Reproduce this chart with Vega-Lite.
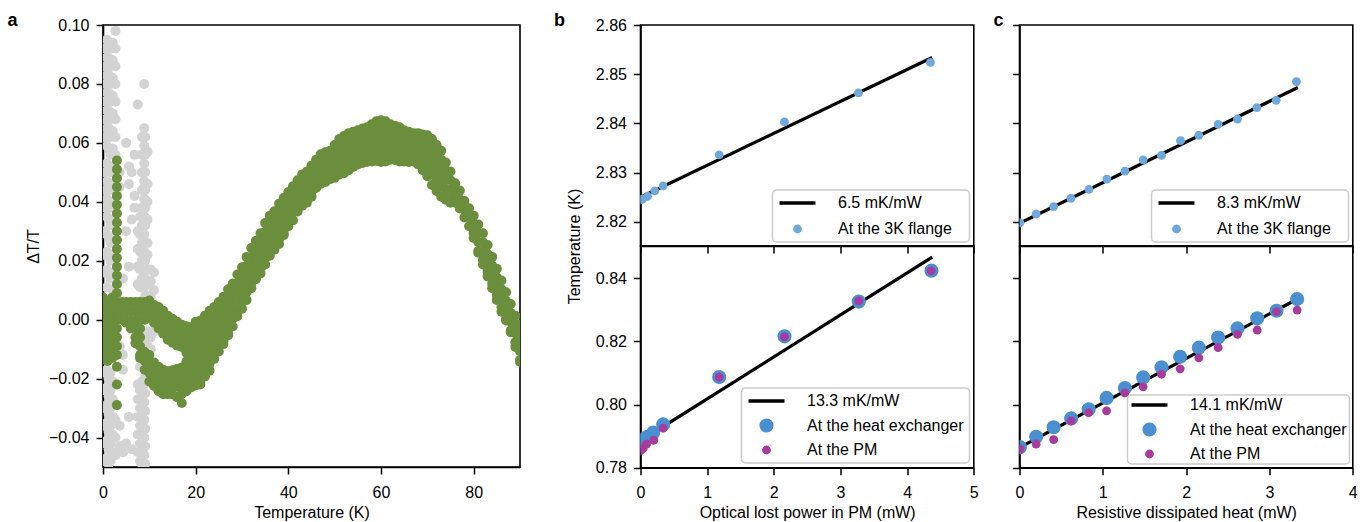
{
  "$schema": "https://vega.github.io/schema/vega-lite/v6.json",
  "padding": {"left": 6, "top": 10, "right": 5, "bottom": 2},
  "config": {
    "font": "Liberation Sans",
    "view": {"stroke": "black", "strokeWidth": 1.6},
    "axis": {"labelFont": "Liberation Sans", "titleFont": "Liberation Sans", "labelFontSize": 16, "titleFontSize": 16, "titleFontWeight": "normal", "labelColor": "black", "titleColor": "black", "tickColor": "black", "domainColor": "black", "tickSize": 7, "tickWidth": 1.5, "domainWidth": 1.6, "grid": false, "labelPadding": 7, "labelFlush": false, "titlePadding": 6},
    "axisX": {"labelPadding": 10, "titlePadding": 4},
    "legend": {"labelFont": "Liberation Sans", "labelFontSize": 16, "labelColor": "black", "padding": 5, "strokeColor": "#cccccc", "strokeWidth": 1.5, "fillColor": "rgba(255,255,255,0.8)", "cornerRadius": 4, "labelOffset": 32.5, "symbolOffset": 12, "rowPadding": 10, "symbolStrokeWidth": 0, "symbolOpacity": 1},
    "title": {"font": "Liberation Sans", "fontSize": 18, "fontWeight": "bold", "anchor": "start", "frame": "group", "color": "black", "offset": 0}
  },
  "datasets": {
    "green": [
      {"t":0,"v":[0.0075,0.0045,0.0015,-0.0015,-0.0045,-0.0075,-0.0105,-0.0135]},
      {"t":1,"v":[0.006,0.003,0,-0.003,-0.006,-0.009,-0.012,-0.014]},
      {"t":2,"v":[0.0075,0.0045,0.0015,-0.0015,-0.0045,-0.0075,-0.0105,-0.013]},
      {"t":3,"v":[0.054,0.051,0.048,0.045,0.042,0.039,0.036,0.033,0.03,0.027,0.024,0.021,0.018,0.015,0.012,0.009,0.006,0.003,0,-0.003,-0.006,-0.009,-0.012,-0.016,-0.022,-0.029]},
      {"t":4,"v":[0.006,0.003,0]},
      {"t":5,"v":[0.006,0.003,0,-0.001]},
      {"t":6,"v":[0.006,0.003,0,-0.003]},
      {"t":7,"v":[0.006,0.003,0,-0.003,-0.006,-0.008]},
      {"t":8,"v":[0.006,0.003,0,-0.003,-0.006,-0.009,-0.012,-0.013]},
      {"t":9,"v":[0.006,0.003,0,-0.011,-0.014,-0.017]},
      {"t":10,"v":[0.0065,0.0035,0.0005,-0.012,-0.015,-0.018,-0.021]},
      {"t":11,"v":[0.005,0.002,-0.001,-0.0145,-0.0175,-0.0205,-0.0225]},
      {"t":12,"v":[0.0043,0.0013,-0.0017,-0.003,-0.016,-0.019,-0.022,-0.0243]},
      {"t":13,"v":[0.003,0,-0.003,-0.0048,-0.017,-0.02,-0.023,-0.0253]},
      {"t":14,"v":[0.0013,-0.0017,-0.0047,-0.0068,-0.0175,-0.0205,-0.0235,-0.0253]},
      {"t":15,"v":[0.0003,-0.0027,-0.0057,-0.0078,-0.0172,-0.0202,-0.0232,-0.0253]},
      {"t":16,"v":[-0.0007,-0.0037,-0.0067,-0.0088,-0.0167,-0.0197,-0.0227,-0.0263]},
      {"t":17,"v":[-0.0017,-0.0047,-0.0077,-0.0093,-0.0162,-0.0192,-0.0222,-0.0252,-0.0283]},
      {"t":18,"v":[-0.0022,-0.0052,-0.0082,-0.0112,-0.0142,-0.0172,-0.0202,-0.0232,-0.0243]},
      {"t":19,"v":[-0.0026,-0.0056,-0.0086,-0.0116,-0.0146,-0.0176,-0.0206,-0.023]},
      {"t":20,"v":[-0.0007,-0.0037,-0.0067,-0.0097,-0.0127,-0.0157,-0.0187,-0.0217,-0.0223]},
      {"t":21,"v":[-0.0003,-0.0033,-0.0063,-0.0093,-0.0123,-0.0153,-0.0183,-0.0213,-0.022]},
      {"t":22,"v":[0.0013,-0.0017,-0.0047,-0.0077,-0.0107,-0.0137,-0.0167,-0.0193]},
      {"t":23,"v":[0.003,0,-0.003,-0.006,-0.009,-0.012,-0.015,-0.0173]},
      {"t":24,"v":[0.0043,0.0013,-0.0017,-0.0047,-0.0077,-0.0107,-0.0133]},
      {"t":25,"v":[0.006,0.003,0,-0.003,-0.006,-0.009,-0.0108]},
      {"t":26,"v":[0.0078,0.0048,0.0018,-0.0012,-0.0042,-0.0072,-0.0083]},
      {"t":27,"v":[0.0103,0.0073,0.0043,0.0013,-0.0017,-0.0047,-0.0053]},
      {"t":28,"v":[0.0123,0.0093,0.0063,0.0033,0.0003,-0.0023]},
      {"t":29,"v":[0.0153,0.0123,0.0093,0.0063,0.0033,0.0012]},
      {"t":30,"v":[0.0178,0.0148,0.0118,0.0088,0.0058,0.0037]},
      {"t":31,"v":[0.0213,0.0183,0.0153,0.0123,0.0093,0.0067]},
      {"t":32,"v":[0.0243,0.0213,0.0183,0.0153,0.0123,0.0107]},
      {"t":33,"v":[0.0268,0.0238,0.0208,0.0178,0.0148,0.0137]},
      {"t":34,"v":[0.0293,0.0263,0.0233,0.0203,0.0173,0.0157]},
      {"t":35,"v":[0.0328,0.0298,0.0268,0.0238,0.0208,0.0187]},
      {"t":36,"v":[0.0353,0.0323,0.0293,0.0263,0.0233,0.0217]},
      {"t":37,"v":[0.0368,0.0338,0.0308,0.0278,0.0248,0.0237]},
      {"t":38,"v":[0.0393,0.0363,0.0333,0.0303,0.0273,0.0257]},
      {"t":39,"v":[0.0413,0.0383,0.0353,0.0323,0.0293,0.0287]},
      {"t":40,"v":[0.0433,0.0403,0.0373,0.0343,0.0317]},
      {"t":41,"v":[0.0453,0.0423,0.0393,0.0363,0.0337]},
      {"t":42,"v":[0.0473,0.0443,0.0413,0.0383,0.0367]},
      {"t":43,"v":[0.0493,0.0463,0.0433,0.0403,0.0387]},
      {"t":44,"v":[0.0503,0.0473,0.0443,0.0413,0.0397]},
      {"t":45,"v":[0.0523,0.0493,0.0463,0.0433,0.0417]},
      {"t":46,"v":[0.0543,0.0513,0.0483,0.0453,0.0447]},
      {"t":47,"v":[0.0561,0.0531,0.0501,0.0471,0.0461]},
      {"t":48,"v":[0.0568,0.0538,0.0508,0.0478,0.0467]},
      {"t":49,"v":[0.0573,0.0543,0.0513,0.0483,0.0477]},
      {"t":50,"v":[0.0593,0.0563,0.0533,0.0503,0.0482]},
      {"t":51,"v":[0.0613,0.0583,0.0553,0.0523,0.0493]},
      {"t":52,"v":[0.0623,0.0593,0.0563,0.0533,0.0503,0.0497]},
      {"t":53,"v":[0.0633,0.0603,0.0573,0.0543,0.0513,0.0507]},
      {"t":54,"v":[0.0638,0.0608,0.0578,0.0548,0.0518]},
      {"t":55,"v":[0.0643,0.0613,0.0583,0.0553,0.0527]},
      {"t":56,"v":[0.0649,0.0619,0.0589,0.0559,0.0532]},
      {"t":57,"v":[0.0653,0.0623,0.0593,0.0563,0.0535]},
      {"t":58,"v":[0.0663,0.0633,0.0603,0.0573,0.0543,0.0537]},
      {"t":59,"v":[0.0673,0.0643,0.0613,0.0583,0.0553,0.0539]},
      {"t":60,"v":[0.0677,0.0647,0.0617,0.0587,0.0557,0.0535]},
      {"t":61,"v":[0.0673,0.0643,0.0613,0.0583,0.0553,0.0537]},
      {"t":62,"v":[0.0663,0.0633,0.0603,0.0573,0.0543]},
      {"t":63,"v":[0.0658,0.0628,0.0598,0.0568,0.0542]},
      {"t":64,"v":[0.0653,0.0623,0.0593,0.0563,0.0537]},
      {"t":65,"v":[0.0643,0.0613,0.0583,0.0553,0.0537]},
      {"t":66,"v":[0.0638,0.0608,0.0578,0.0548,0.0535]},
      {"t":67,"v":[0.0633,0.0603,0.0573,0.0543,0.0537]},
      {"t":68,"v":[0.0633,0.0603,0.0573,0.0543,0.0527]},
      {"t":69,"v":[0.0628,0.0598,0.0568,0.0538,0.0507]},
      {"t":70,"v":[0.0626,0.0596,0.0566,0.0536,0.0506,0.0487]},
      {"t":71,"v":[0.0613,0.0583,0.0553,0.0523,0.0493,0.0457]},
      {"t":72,"v":[0.0593,0.0563,0.0533,0.0503,0.0473,0.0437]},
      {"t":73,"v":[0.0573,0.0543,0.0513,0.0483,0.0453,0.0417]},
      {"t":74,"v":[0.0533,0.0503,0.0473,0.0443,0.0413,0.0407]},
      {"t":75,"v":[0.0503,0.0473,0.0443,0.0413,0.0397]},
      {"t":76,"v":[0.0463,0.0433,0.0403,0.0397]},
      {"t":77,"v":[0.0438,0.0408,0.0377]},
      {"t":78,"v":[0.0403,0.0373,0.0347]},
      {"t":79,"v":[0.0378,0.0348,0.0317]},
      {"t":80,"v":[0.0353,0.0323,0.0293,0.0277]},
      {"t":81,"v":[0.0323,0.0293,0.0263,0.0233,0.0227]},
      {"t":82,"v":[0.0293,0.0263,0.0233,0.0203,0.0187]},
      {"t":83,"v":[0.0253,0.0223,0.0193,0.0163,0.0147]},
      {"t":84,"v":[0.0213,0.0183,0.0153,0.0123,0.0107]},
      {"t":85,"v":[0.0173,0.0143,0.0113,0.0083,0.0067]},
      {"t":86,"v":[0.0133,0.0103,0.0073,0.0043,0.0027]},
      {"t":87,"v":[0.0093,0.0063,0.0033,0.0003,-0.0003]},
      {"t":88,"v":[0.0053,0.0023,-0.0007,-0.0037,-0.0043]},
      {"t":89,"v":[0.0013,-0.0017,-0.0047,-0.0077,-0.0093]},
      {"t":90,"v":[-0.0017,-0.0047,-0.0077,-0.0107,-0.0137,-0.0143]}
    ],
    "grey": [
      {"t":0.4,"v":[0.092,0.086,0.08,0.074,0.068,0.062,0.05,0.044,0.038,0.03,0.022,0.016,-0.018,-0.024,-0.03,-0.036,-0.042,-0.048]},
      {"t":0.8,"v":[0.095,0.089,0.083,0.077,0.071,0.065,0.059,0.053,0.047,0.041,0.035,0.029,0.023,0.017,0.011,-0.017,-0.023,-0.029,-0.035,-0.041,-0.047]},
      {"t":1.2,"v":[0.089,0.083,0.077,0.071,0.065,0.058,0.052,0.046,0.04,0.034,0.028,0.022,0.016,-0.02,-0.026,-0.032,-0.038,-0.044,-0.049]},
      {"t":1.6,"v":[0.092,0.086,0.08,0.074,0.068,0.062,0.056,0.05,0.044,0.038,0.032,0.026,0.02,0.014,-0.018,-0.024,-0.03,-0.036,-0.042,-0.048]},
      {"t":2.1,"v":[0.094,0.088,0.082,0.076,0.07,0.064,0.058,0.052,0.046,0.04,0.034,0.028,0.022,0.016,0.01,-0.021,-0.027,-0.033,-0.039,-0.045]},
      {"t":2.7,"v":[0.098,0.092,0.086,0.08,0.074,0.068,0.062,0.056,-0.034,-0.04,-0.046]},
      {"t":3.6,"v":[0.05,0.045,-0.009,-0.036,-0.043]},
      {"t":4.3,"v":[0.014,-0.012,-0.017,-0.045]},
      {"t":5.0,"v":[0.06,0.03,-0.042]},
      {"t":5.6,"v":[0.052,0.046,0.018,-0.033]},
      {"t":6.2,"v":[0.05,0.034,-0.044]},
      {"t":6.8,"v":[0.056,0.042,0.038]},
      {"t":7.5,"v":[0.073,0.03,0.024,0.018,0.012,-0.022,-0.027,-0.033,-0.039,-0.045]},
      {"t":8.0,"v":[0.035,0.029,0.023,0.017,0.011,-0.016,-0.024,-0.03,-0.036,-0.042,-0.048]},
      {"t":8.4,"v":[0.062,0.056,0.05,0.044,0.038,0.032,0.026,0.02,0.014,-0.004,-0.021,-0.027,-0.033,-0.038,-0.044,-0.049]},
      {"t":8.9,"v":[0.08,0.065,0.059,0.053,0.047,0.041,0.035,0.029,0.023,0.017,0.011,-0.01,-0.016,-0.022,-0.028,-0.034,-0.04,-0.046]},
      {"t":9.1,"v":[0.062,0.056,0.05,0.044,0.038,0.032,0.026,0.02,0.014,0.008,-0.007,-0.013,-0.019,-0.025,-0.031,-0.037,-0.043,-0.049]},
      {"t":9.6,"v":[0.057,0.046,0.04,0.034,0.026,0.022,0.017,0.012,0.008,-0.004,-0.009,-0.015]},
      {"t":10.3,"v":[0.017,0.013,0.008,-0.006,-0.01]},
      {"t":11.0,"v":[0.016,0.01,-0.004]}
    ],
    "bfit3k": [{"x":0,"y":2.825},{"x":4.375,"y":2.8534}],
    "b3k": [{"x":0,"y":2.8245},{"x":0.03,"y":2.8246},{"x":0.105,"y":2.8252},{"x":0.215,"y":2.8263},{"x":0.34,"y":2.8273},{"x":1.18,"y":2.8336},{"x":2.16,"y":2.8403},{"x":3.27,"y":2.8462},{"x":4.35,"y":2.8524}],
    "bfit": [{"x":0,"y":0.7885},{"x":4.375,"y":0.8467}],
    "bhx": [{"x":0,"y":0.7885},{"x":0.03,"y":0.789},{"x":0.105,"y":0.7898},{"x":0.19,"y":0.7911},{"x":0.34,"y":0.7937},{"x":1.18,"y":0.8087},{"x":2.16,"y":0.8216},{"x":3.275,"y":0.8326},{"x":4.365,"y":0.8424}],
    "bpm": [{"x":0,"y":0.7854},{"x":0.04,"y":0.7861},{"x":0.09,"y":0.7875},{"x":0.2,"y":0.7887},{"x":0.34,"y":0.7925},{"x":1.18,"y":0.8087},{"x":2.16,"y":0.8214},{"x":3.275,"y":0.8328},{"x":4.36,"y":0.8423}],
    "cfit3k": [{"x":0,"y":2.8197},{"x":3.34,"y":2.8473}],
    "c3k": [{"x":0.005,"y":2.8198},{"x":0.2,"y":2.8216},{"x":0.41,"y":2.8231},{"x":0.617,"y":2.8248},{"x":0.833,"y":2.8266},{"x":1.049,"y":2.8287},{"x":1.265,"y":2.8303},{"x":1.484,"y":2.8326},{"x":1.704,"y":2.8335},{"x":1.932,"y":2.8365},{"x":2.152,"y":2.8376},{"x":2.384,"y":2.8398},{"x":2.616,"y":2.8409},{"x":2.849,"y":2.8432},{"x":3.081,"y":2.8447},{"x":3.324,"y":2.8485}],
    "cfit": [{"x":0,"y":0.7864},{"x":3.34,"y":0.8335}],
    "chx": [{"x":0.005,"y":0.7865},{"x":0.2,"y":0.7898},{"x":0.41,"y":0.7928},{"x":0.62,"y":0.7956},{"x":0.83,"y":0.7985},{"x":1.045,"y":0.8021},{"x":1.265,"y":0.8052},{"x":1.484,"y":0.8086},{"x":1.704,"y":0.8118},{"x":1.928,"y":0.8151},{"x":2.152,"y":0.818},{"x":2.384,"y":0.8212},{"x":2.616,"y":0.8241},{"x":2.853,"y":0.8273},{"x":3.085,"y":0.8297},{"x":3.332,"y":0.8334}],
    "cpm": [{"x":0.005,"y":0.7859},{"x":0.2,"y":0.7875},{"x":0.41,"y":0.7889},{"x":0.62,"y":0.7948},{"x":0.83,"y":0.7974},{"x":1.045,"y":0.798},{"x":1.265,"y":0.8037},{"x":1.484,"y":0.8056},{"x":1.704,"y":0.8096},{"x":1.928,"y":0.8113},{"x":2.152,"y":0.8148},{"x":2.384,"y":0.818},{"x":2.616,"y":0.8222},{"x":2.853,"y":0.8236},{"x":3.085,"y":0.8294},{"x":3.332,"y":0.8299}]
  },
  "spacing": 31.5,
  "resolve": {"scale": {"color": "independent", "shape": "independent", "size": "independent"}, "legend": {"color": "independent", "shape": "independent", "size": "independent"}},
  "hconcat": [
    {
      "title": {"text": "a", "dx": -95.5, "dy": 16.5},
      "width": 417,
      "height": 442,
      "encoding": {
        "x": {"field": "t", "type": "quantitative", "scale": {"domain": [0, 90], "nice": false, "zero": false}, "axis": {"title": "Temperature (K)", "values": [0, 20, 40, 60, 80], "format": "d"}},
        "y": {"field": "v", "type": "quantitative", "scale": {"domain": [-0.05, 0.1], "nice": false, "zero": false}, "axis": {"title": "ΔT/T", "values": [-0.04, -0.02, 0, 0.02, 0.04, 0.06, 0.08, 0.1], "format": ".2f", "titlePadding": 7}}
      },
      "layer": [
        {"data": {"name": "grey"}, "transform": [{"flatten": ["v"]}], "mark": {"type": "circle", "color": "#d3d3d3", "opacity": 1, "size": 100, "clip": true}},
        {"data": {"name": "green"}, "transform": [{"flatten": ["v"]}], "mark": {"type": "circle", "color": "#6b8e3d", "opacity": 1, "size": 100, "clip": true}}
      ]
    },
    {
      "columns": 2,
      "bounds": "flush",
      "spacing": {"row": 0, "column": 45},
      "resolve": {"scale": {"color": "independent", "shape": "independent", "size": "independent"}, "legend": {"color": "independent", "shape": "independent", "size": "independent"}},
      "concat": [
        {
          "title": {"text": "b", "dx": -86.4, "dy": 16.5},
          "width": 333.3,
          "height": 221,
          "encoding": {
            "x": {"field": "x", "type": "quantitative", "scale": {"domain": [0, 5], "nice": false, "zero": false}, "axis": {"values": [0, 1, 2, 3, 4, 5], "labels": false, "title": null}},
            "y": {"field": "y", "type": "quantitative", "scale": {"domain": [2.8151, 2.86], "nice": false, "zero": false}, "axis": {"values": [2.82, 2.83, 2.84, 2.85, 2.86], "format": ".2f", "title": "Temperature (K)", "titleY": 221, "titlePadding": 13}}
          },
          "layer": [
            {"data": {"name": "bfit3k"}, "mark": {"type": "line", "color": "black", "strokeWidth": 3.2, "clip": true}, "encoding": {}},
            {"data": {"name": "b3k"}, "mark": {"type": "point", "filled": true, "opacity": 1, "strokeWidth": 0, "clip": true},
             "encoding": {
               "color": {"datum": "At the 3K flange", "type": "nominal", "scale": {"domain": ["6.5 mK/mW", "At the 3K flange"], "range": ["black", "#6fa8dc"]},
                 "legend": {"title": null, "orient": "bottom-right", "offset": 4.5, "rowPadding": 10, "labelExpr": "datum.label + '\u2800'"}},
               "shape": {"datum": "At the 3K flange", "type": "nominal", "scale": {"domain": ["6.5 mK/mW", "At the 3K flange"], "range": ["M-2.5,-0.23L2.5,-0.23L2.5,0.23L-2.5,0.23Z", "circle"]},
                 "legend": {"title": null, "orient": "bottom-right", "offset": 4.5, "rowPadding": 10, "labelExpr": "datum.label + '\u2800'"}},
               "size": {"datum": "At the 3K flange", "type": "nominal", "scale": {"type": "ordinal", "domain": ["6.5 mK/mW", "At the 3K flange"], "range": [207, 78]},
                 "legend": {"title": null, "orient": "bottom-right", "offset": 4.5, "rowPadding": 10, "labelExpr": "datum.label + '\u2800'"}}
             }}
          ]
        },
        {
          "title": {"text": "c", "dx": -26, "dy": 9.5},
          "width": 333.3,
          "height": 221,
          "encoding": {
            "x": {"field": "x", "type": "quantitative", "scale": {"domain": [0, 4], "nice": false, "zero": false}, "axis": {"values": [0, 1, 2, 3, 4], "labels": false, "title": null}},
            "y": {"field": "y", "type": "quantitative", "scale": {"domain": [2.8151, 2.86], "nice": false, "zero": false}, "axis": {"values": [2.82, 2.83, 2.84, 2.85, 2.86], "labels": false, "title": null}}
          },
          "layer": [
            {"data": {"name": "cfit3k"}, "mark": {"type": "line", "color": "black", "strokeWidth": 3.2, "clip": true}, "encoding": {}},
            {"data": {"name": "c3k"}, "mark": {"type": "point", "filled": true, "opacity": 1, "strokeWidth": 0, "clip": true},
             "encoding": {
               "color": {"datum": "At the 3K flange", "type": "nominal", "scale": {"domain": ["8.3 mK/mW", "At the 3K flange"], "range": ["black", "#6fa8dc"]},
                 "legend": {"title": null, "orient": "bottom-right", "offset": 4.5, "rowPadding": 10, "labelExpr": "datum.label + '\u2800'"}},
               "shape": {"datum": "At the 3K flange", "type": "nominal", "scale": {"domain": ["8.3 mK/mW", "At the 3K flange"], "range": ["M-2.5,-0.23L2.5,-0.23L2.5,0.23L-2.5,0.23Z", "circle"]},
                 "legend": {"title": null, "orient": "bottom-right", "offset": 4.5, "rowPadding": 10, "labelExpr": "datum.label + '\u2800'"}},
               "size": {"datum": "At the 3K flange", "type": "nominal", "scale": {"type": "ordinal", "domain": ["8.3 mK/mW", "At the 3K flange"], "range": [207, 78]},
                 "legend": {"title": null, "orient": "bottom-right", "offset": 4.5, "rowPadding": 10, "labelExpr": "datum.label + '\u2800'"}}
             }}
          ]
        },
        {
          "width": 333.3,
          "height": 221.7,
          "encoding": {
            "x": {"field": "x", "type": "quantitative", "scale": {"domain": [0, 5], "nice": false, "zero": false}, "axis": {"values": [0, 1, 2, 3, 4, 5], "format": "d", "title": "Optical lost power in PM (mW)"}},
            "y": {"field": "y", "type": "quantitative", "scale": {"domain": [0.78, 0.8502], "nice": false, "zero": false}, "axis": {"values": [0.78, 0.8, 0.82, 0.84], "format": ".2f", "title": null}}
          },
          "layer": [
            {"data": {"name": "bfit"}, "mark": {"type": "line", "color": "black", "strokeWidth": 3.2, "clip": true}, "encoding": {}},
            {"data": {"name": "bhx"}, "mark": {"type": "point", "filled": true, "opacity": 1, "strokeWidth": 0, "clip": true},
             "encoding": {
               "color": {"datum": "At the heat exchanger", "type": "nominal", "scale": {"domain": ["13.3 mK/mW", "At the heat exchanger", "At the PM"], "range": ["black", "#4a8fd0", "#a83c9e"]},
                 "legend": {"title": null, "orient": "bottom-right", "offset": 4.5, "rowPadding": 8.5}},
               "shape": {"datum": "At the heat exchanger", "type": "nominal", "scale": {"domain": ["13.3 mK/mW", "At the heat exchanger", "At the PM"], "range": ["M-2.5,-0.23L2.5,-0.23L2.5,0.23L-2.5,0.23Z", "circle", "circle"]},
                 "legend": {"title": null, "orient": "bottom-right", "offset": 4.5, "rowPadding": 8.5}},
               "size": {"datum": "At the heat exchanger", "type": "nominal", "scale": {"type": "ordinal", "domain": ["13.3 mK/mW", "At the heat exchanger", "At the PM"], "range": [207, 200, 78]},
                 "legend": {"title": null, "orient": "bottom-right", "offset": 4.5, "rowPadding": 8.5}}
             }},
            {"data": {"name": "bpm"}, "mark": {"type": "point", "filled": true, "opacity": 1, "strokeWidth": 0, "clip": true},
             "encoding": {
               "color": {"datum": "At the PM", "type": "nominal", "scale": {"domain": ["13.3 mK/mW", "At the heat exchanger", "At the PM"], "range": ["black", "#4a8fd0", "#a83c9e"]}},
               "shape": {"datum": "At the PM", "type": "nominal", "scale": {"domain": ["13.3 mK/mW", "At the heat exchanger", "At the PM"], "range": ["M-2.5,-0.23L2.5,-0.23L2.5,0.23L-2.5,0.23Z", "circle", "circle"]}},
               "size": {"datum": "At the PM", "type": "nominal", "scale": {"type": "ordinal", "domain": ["13.3 mK/mW", "At the heat exchanger", "At the PM"], "range": [207, 200, 78]}}
             }}
          ]
        },
        {
          "width": 333.3,
          "height": 221.7,
          "encoding": {
            "x": {"field": "x", "type": "quantitative", "scale": {"domain": [0, 4], "nice": false, "zero": false}, "axis": {"values": [0, 1, 2, 3, 4], "format": "d", "title": "Resistive dissipated heat (mW)"}},
            "y": {"field": "y", "type": "quantitative", "scale": {"domain": [0.78, 0.8502], "nice": false, "zero": false}, "axis": {"values": [0.78, 0.8, 0.82, 0.84], "labels": false, "title": null}}
          },
          "layer": [
            {"data": {"name": "cfit"}, "mark": {"type": "line", "color": "black", "strokeWidth": 3.2, "clip": true}, "encoding": {}},
            {"data": {"name": "chx"}, "mark": {"type": "point", "filled": true, "opacity": 1, "strokeWidth": 0, "clip": true},
             "encoding": {
               "color": {"datum": "At the heat exchanger", "type": "nominal", "scale": {"domain": ["14.1 mK/mW", "At the heat exchanger", "At the PM"], "range": ["black", "#4a8fd0", "#a83c9e"]},
                 "legend": {"title": null, "orient": "bottom-right", "offset": 3.4, "padding": 2, "rowPadding": 8.5}},
               "shape": {"datum": "At the heat exchanger", "type": "nominal", "scale": {"domain": ["14.1 mK/mW", "At the heat exchanger", "At the PM"], "range": ["M-2.5,-0.23L2.5,-0.23L2.5,0.23L-2.5,0.23Z", "circle", "circle"]},
                 "legend": {"title": null, "orient": "bottom-right", "offset": 3.4, "padding": 2, "rowPadding": 8.5}},
               "size": {"datum": "At the heat exchanger", "type": "nominal", "scale": {"type": "ordinal", "domain": ["14.1 mK/mW", "At the heat exchanger", "At the PM"], "range": [207, 200, 78]},
                 "legend": {"title": null, "orient": "bottom-right", "offset": 3.4, "padding": 2, "rowPadding": 8.5}}
             }},
            {"data": {"name": "cpm"}, "mark": {"type": "point", "filled": true, "opacity": 1, "strokeWidth": 0, "clip": true},
             "encoding": {
               "color": {"datum": "At the PM", "type": "nominal", "scale": {"domain": ["14.1 mK/mW", "At the heat exchanger", "At the PM"], "range": ["black", "#4a8fd0", "#a83c9e"]}},
               "shape": {"datum": "At the PM", "type": "nominal", "scale": {"domain": ["14.1 mK/mW", "At the heat exchanger", "At the PM"], "range": ["M-2.5,-0.23L2.5,-0.23L2.5,0.23L-2.5,0.23Z", "circle", "circle"]}},
               "size": {"datum": "At the PM", "type": "nominal", "scale": {"type": "ordinal", "domain": ["14.1 mK/mW", "At the heat exchanger", "At the PM"], "range": [207, 200, 78]}}
             }}
          ]
        }
      ]
    }
  ]
}
